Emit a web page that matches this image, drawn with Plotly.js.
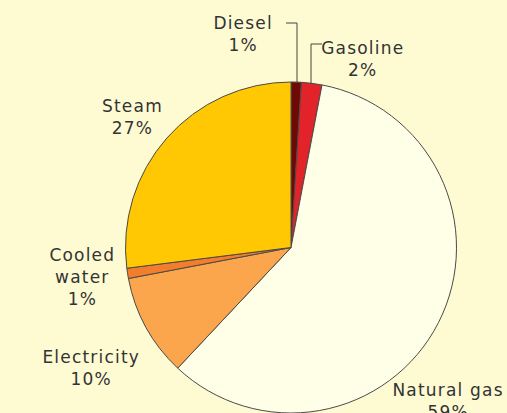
<!DOCTYPE html>
<html>
<head>
<meta charset="utf-8">
<script src="https://cdn.plot.ly/plotly-3.0.1.min.js"></script>
<style>html,body{margin:0;padding:0;background:#fefbd3;}#chart{width:507px;height:413px;}
#chart .annotation-text{letter-spacing:1.2px;}</style>
</head>
<body>
<div id="chart"></div>
<script>
const labels = ["Diesel", "Gasoline", "Natural gas", "Electricity", "Cooled water", "Steam"];
const values = [1, 2, 59, 10, 1, 27];
const labelLines = [["Diesel"], ["Gasoline"], ["Natural gas"], ["Electricity"], ["Cooled", "water"], ["Steam"]];

const colors = ["#6e0a05", "#e2232a", "#fffee6", "#fba64c", "#f27d2c", "#ffc802"];
// label block centers in pixels
const labelPos = [[243, 34], [363, 59], [448, 401], [91, 368], [82, 277], [132, 117]];

const W = 507, H = 413;
const px = x => x / W;
const py = y => 1 - y / H;

const annotations = labels.map((l, i) => ({
  text: labelLines[i].join("<br>") + "<br>" + values[i] + "%",
  x: px(labelPos[i][0]), y: py(labelPos[i][1]),
  xref: "paper", yref: "paper", xanchor: "center", yanchor: "middle",
  showarrow: false,
  font: {family: "DejaVu Sans", size: 17, color: "#333333"}
}));

const lineStyle = {color: "#444", width: 1};
const leader = (pts) => ({
  type: "path", xref: "paper", yref: "paper",
  path: pts.map((p, i) => (i ? "L" : "M") + px(p[0]) + "," + py(p[1])).join(" "),
  line: lineStyle
});

Plotly.newPlot("chart", [{
  type: "pie",
  labels: labels,
  values: values,
  sort: false,
  direction: "clockwise",
  rotation: 0,
  textinfo: "none",
  hoverinfo: "none",
  marker: {colors: colors, line: {color: "#4a4a4a", width: 1}},
  domain: {x: [125 / W, 457 / W], y: [0, 1 - 82 / H]},
  showlegend: false
}], {
  width: W, height: H,
  margin: {l: 0, r: 0, t: 0, b: 0},
  paper_bgcolor: "#fefbd3",
  plot_bgcolor: "#fefbd3",
  annotations: annotations,
  shapes: [
    leader([[286, 23], [297, 23], [297, 82]]),
    leader([[322, 44], [311, 44], [311, 84]])
  ]
}, {staticPlot: true});
</script>
</body>
</html>
